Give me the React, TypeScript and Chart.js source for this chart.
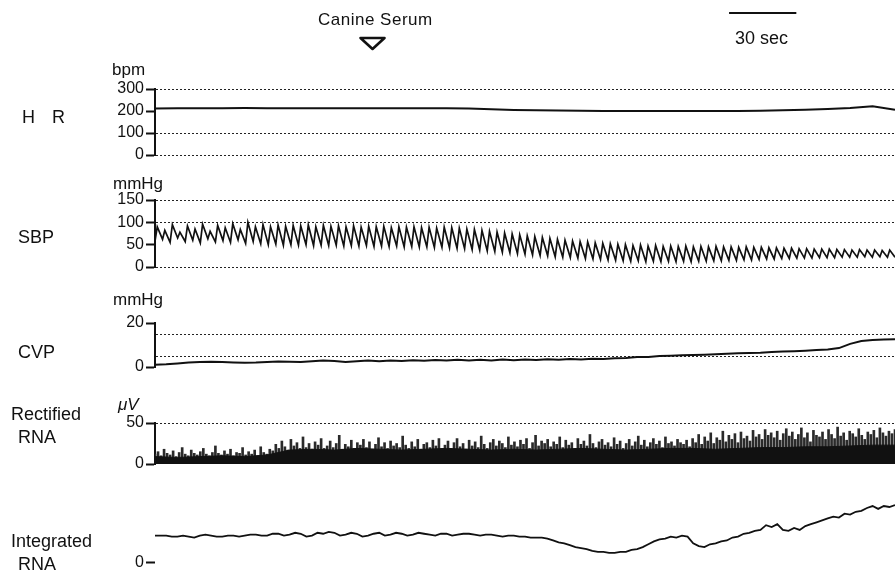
import { useEffect, useRef } from "react";
import { Chart, registerables } from "chart.js";

Chart.register(...registerables);

// ---------- data (read from the recording) ----------
const TIME_MAX = 330; // seconds shown across the record
const SERUM_TIME = 97; // injection of canine serum (s)
const SCALE_BAR_START = 256; // 30 sec calibration bar (s)
const SCALE_BAR_LENGTH = 30;

// Heart rate, bpm, one value every 10 s
const HR_STEP = 10;
const HR_VALUES = [211, 212, 212, 213, 214, 213, 212, 212, 212, 212, 212, 212, 212, 212, 211, 208, 205, 203, 202, 201, 200, 200, 200, 200, 200, 200, 200, 201, 203, 206, 209, 214, 222, 206];
const HR_TICKS = [0, 100, 200, 300];

// Systemic blood pressure, mmHg, per beat (systolic peak / diastolic trough)
const SBP_PEAKS = [
  90, 82, 95, 78, 92, 85, 96, 80, 93, 88, 97, 84, 100, 90,
  95, 90, 94, 91, 93, 92, 94, 90, 93, 91, 92, 90, 92, 89, 91, 90, 91, 88, 90, 89, 90, 88, 89, 87, 89, 88,
  87, 85, 84, 82, 80, 78, 76, 74, 72, 70, 68, 66, 64, 62, 60, 58, 57, 56, 54, 53, 52, 51,
  50, 48, 49, 47, 48, 46, 47, 46, 47, 45, 46, 45, 46, 45, 45, 44, 45, 44,
  44, 43, 43, 42, 42, 41, 41, 40, 40, 40, 39, 39, 38, 39, 38, 38, 37, 38,
];
const SBP_TROUGHS = [
  58, 62, 55, 65, 57, 60, 54, 63, 56, 59, 55, 61, 53, 57,
  52, 50, 51, 49, 50, 49, 50, 48, 49, 48, 49, 47, 48, 47, 48, 46, 47, 46, 47, 45, 46, 45, 45, 44, 44, 43,
  42, 41, 39, 38, 36, 35, 33, 32, 30, 29, 27, 26, 25, 23, 22, 21, 20, 19, 18, 17, 16, 15,
  14, 13, 14, 12, 13, 12, 13, 12, 13, 12, 13, 13, 14, 14, 15, 15, 16, 16,
  17, 18, 18, 19, 19, 20, 20, 20, 21, 21, 21, 22, 22, 22, 23, 22, 23, 22,
];
const SBP_TICKS = [0, 50, 100, 150];

// Central venous pressure, mmHg, one value every 5 s
const CVP_STEP = 5;
const CVP_VALUES = [
  1.0, 1.2, 1.6, 2.0, 2.3, 2.4, 2.3, 2.1, 1.9, 2.0, 2.3, 2.5, 2.4, 2.3, 2.6, 2.9, 2.7, 2.3, 2.6, 2.9,
  2.6, 3.0, 2.7, 3.1, 2.8, 3.2, 2.9, 3.3, 3.0, 3.3, 3.0, 3.4, 3.1, 3.4, 3.2, 3.5, 3.3, 3.6, 3.4, 3.7,
  3.6, 4.0, 4.1, 4.5, 4.6, 5.0, 5.1, 5.3, 5.4, 5.6, 5.8, 6.0, 6.2, 6.4, 6.5, 6.8, 7.0, 7.2, 7.4, 7.7,
  8.0, 8.6, 10.5, 11.8, 12.3, 12.5, 12.6,
];
const CVP_TICKS = [0, 20];

// Rectified renal nerve activity, microvolts
// background level, one value every 10 s
const RNA_BASE_STEP = 10;
const RNA_BASE = [9, 8, 9, 10, 9, 11, 17, 18, 17, 19, 18, 17, 18, 19, 18, 17, 18, 17, 18, 19, 18, 17, 18, 19, 19, 18, 19, 20, 20, 21, 21, 22, 23, 23];
// individual bursts, evenly spaced over the record
const RNA_SPIKES = [
  12, 15, 10, 18, 13, 11, 16, 9, 14, 20, 12, 10, 17, 13, 11, 15, 19, 12, 10, 14,
  22, 13, 11, 16, 12, 18, 10, 14, 13, 20, 11, 15, 12, 17, 10, 21, 14, 12, 18, 16,
  24, 19, 28, 21, 17, 30, 22, 26, 19, 33, 20, 25, 18, 27, 23, 31, 19, 22, 28, 20,
  25, 35, 18, 24, 21, 29, 19, 26, 23, 30, 20, 27, 18, 24, 32, 21, 26, 19, 28, 22,
  25, 20, 34, 23, 19, 27, 21, 30, 18, 24, 26, 20, 29, 22, 31, 19,
  23, 28, 19, 26, 31, 21, 25, 18, 29, 22, 27, 20, 34, 24, 19, 26, 30, 22, 28, 25,
  20, 33, 23, 27, 21, 29, 24, 31, 19, 26, 35, 22, 28, 25, 30, 21, 27, 24, 33, 20,
  29, 23, 26, 19, 31, 24, 28, 22, 36, 25, 20, 27, 30, 23, 26, 21, 32, 24, 28, 19,
  25, 30, 22, 27, 34, 23, 29, 21, 26, 31, 24, 28, 20, 33, 25, 27, 22, 30, 26, 24,
  29, 21,
  31, 26, 36, 24, 33, 28, 38, 25, 32, 29, 40, 27, 35, 30, 37, 26, 39, 31, 34, 28,
  41, 33, 36, 30, 42, 35, 38, 32, 40, 29, 37, 43, 34, 39, 30, 36, 44, 32, 38, 27,
  41, 35, 33, 39, 30, 42, 36, 31, 45, 34, 38, 29, 40, 37, 33, 43, 35, 30, 39, 36,
  41, 32, 44, 38, 34, 40, 37, 42,
];
const RNA_TICKS = [0, 50];

// Integrated renal nerve activity, arbitrary units, one value every 2.5 s
const INT_STEP = 2.5;
const INT_VALUES = [
  28, 28, 28, 27, 27, 28, 27, 26, 28, 29,
  28, 27, 27, 28, 28, 27, 28, 29, 29, 28,
  28, 30, 30, 28, 29, 31, 30, 27, 28, 31,
  30, 32, 31, 28, 29, 31, 30, 27, 28, 30,
  31, 28, 29, 31, 30, 28, 29, 31, 30, 29,
  28, 30, 30, 28, 29, 30, 30, 29, 28, 29,
  29, 28, 27, 28, 28, 27, 27, 26, 26, 26,
  25, 23, 21, 20, 18, 16, 15, 14, 12, 11,
  11, 10, 10, 11, 11, 13, 14, 16, 19, 22,
  24, 25, 27, 26, 28, 27, 20, 17, 16, 19,
  20, 22, 23, 26, 27, 30, 31, 33, 34, 39,
  37, 40, 34, 33, 36, 34, 38, 40, 42, 44,
  46, 48, 47, 51, 50, 53, 54, 57, 59, 56,
  59, 58, 60,
];
const INT_TICKS = [0];

// ---------- layout / style ----------
const W = 895;
const H = 574;
const AXIS_X = 155;
const FONT = "'Liberation Sans', Arial, sans-serif";
const INK = "#111";

type PanelSpec = {
  top: number;
  bottom: number;
  min: number;
  max: number;
  ticks: number[];
  labels: number[];
  dotted: number[];
  border: boolean;
  datasets: any[];
  plugins?: any[];
};

function panelConfig(p: PanelSpec): any {
  return {
    type: "line",
    data: { datasets: p.datasets },
    plugins: p.plugins || [],
    options: {
      responsive: false,
      animation: false,
      events: [],
      parsing: false,
      layout: { padding: { left: 0, right: 0, top: p.top, bottom: H - p.bottom } },
      plugins: {
        legend: { display: false },
        tooltip: { enabled: false },
        title: { display: false },
      },
      elements: { point: { radius: 0 }, line: { tension: 0 } },
      scales: {
        x: { type: "linear", min: 0, max: TIME_MAX, display: false, offset: false },
        y: {
          type: "linear",
          min: p.min,
          max: p.max,
          afterFit: (s: any) => {
            s.width = AXIS_X;
          },
          afterBuildTicks: (s: any) => {
            s.ticks = p.ticks.map((v) => ({ value: v }));
          },
          ticks: {
            autoSkip: false,
            padding: 2,
            color: INK,
            font: { family: FONT, size: 16 },
            callback: (v: number) => (p.labels.includes(v) ? String(v) : ""),
          },
          grid: {
            drawOnChartArea: true,
            drawTicks: true,
            tickLength: 9,
            tickWidth: 2,
            lineWidth: 1,
            color: (c: any) => (c.tick && p.dotted.includes(c.tick.value) ? "#222" : "rgba(0,0,0,0)"),
            tickColor: (c: any) => (c.tick && p.labels.includes(c.tick.value) ? INK : "rgba(0,0,0,0)"),
          },
          border: { display: p.border, color: INK, width: 2, dash: [2, 2] },
        },
      },
    },
  };
}

const markerPlugin = {
  id: "markers",
  afterDraw(chart: any) {
    const xs = chart.scales.x;
    const ctx = chart.ctx;
    ctx.save();
    ctx.strokeStyle = INK;
    ctx.lineWidth = 2;
    const a = xs.getPixelForValue(SCALE_BAR_START);
    const b = xs.getPixelForValue(SCALE_BAR_START + SCALE_BAR_LENGTH);
    ctx.beginPath();
    ctx.moveTo(a, 13);
    ctx.lineTo(b, 13);
    ctx.stroke();
    const s = xs.getPixelForValue(SERUM_TIME);
    ctx.lineWidth = 2.6;
    ctx.lineJoin = "round";
    ctx.beginPath();
    ctx.moveTo(s - 12, 38);
    ctx.lineTo(s + 12, 38);
    ctx.lineTo(s, 49);
    ctx.closePath();
    ctx.stroke();
    ctx.restore();
  },
};

function stepSeries(values: number[], step: number) {
  return values.map((v, i) => ({ x: i * step, y: v }));
}

function spreadSeries(values: number[]) {
  const step = TIME_MAX / (values.length - 1);
  return values.map((v, i) => ({ x: i * step, y: v }));
}

function beatSeries(peaks: number[], troughs: number[]) {
  const period = TIME_MAX / peaks.length;
  const pts: { x: number; y: number }[] = [];
  peaks.forEach((pk, i) => {
    pts.push({ x: i * period, y: troughs[i] });
    pts.push({ x: i * period + period * 0.3, y: pk });
  });
  pts.push({ x: TIME_MAX, y: troughs[troughs.length - 1] });
  return pts;
}

function lineDs(data: any[], width: number, extra: any = {}) {
  return {
    data,
    borderColor: INK,
    borderWidth: width,
    pointRadius: 0,
    fill: false,
    ...extra,
  };
}

function buildPanels(): PanelSpec[] {
  return [
    {
      top: 89, bottom: 155, min: 0, max: 300, ticks: HR_TICKS, labels: HR_TICKS, dotted: [0, 100, 300], border: true,
      datasets: [lineDs(stepSeries(HR_VALUES, HR_STEP), 2)],
      plugins: [markerPlugin],
    },
    {
      top: 200, bottom: 267, min: 0, max: 150, ticks: SBP_TICKS, labels: SBP_TICKS, dotted: [0, 100, 150], border: true,
      datasets: [lineDs(beatSeries(SBP_PEAKS, SBP_TROUGHS), 1.7)],
    },
    {
      top: 323, bottom: 367, min: 0, max: 20, ticks: [0, 5, 15, 20], labels: CVP_TICKS, dotted: [5, 15], border: true,
      datasets: [lineDs(stepSeries(CVP_VALUES, CVP_STEP), 2)],
    },
    {
      top: 423, bottom: 464, min: 0, max: 50, ticks: RNA_TICKS, labels: RNA_TICKS, dotted: [50], border: true,
      datasets: [
        lineDs(stepSeries(RNA_BASE, RNA_BASE_STEP), 1, { fill: "origin", backgroundColor: "#111" }),
        {
          type: "bar",
          data: spreadSeries(RNA_SPIKES),
          backgroundColor: "#2a2a2a",
          borderWidth: 0,
          barThickness: 2,
        },
      ],
    },
    {
      top: 486, bottom: 566, min: 0, max: 80, ticks: INT_TICKS, labels: INT_TICKS, dotted: [], border: false,
      datasets: [lineDs(stepSeries(INT_VALUES, INT_STEP), 1.8)],
    },
  ];
}

function PanelCanvas({ spec }: { spec: PanelSpec }) {
  const ref = useRef<HTMLCanvasElement | null>(null);
  useEffect(() => {
    if (!ref.current) return;
    const chart = new Chart(ref.current, panelConfig(spec));
    return () => chart.destroy();
  }, [spec]);
  return (
    <canvas
      ref={ref}
      width={W}
      height={H}
      style={{ position: "absolute", left: 0, top: 0, width: W, height: H }}
    />
  );
}

const PANELS = buildPanels();

const label = (text: string, left: number, top: number, extra: any = {}) => (
  <div
    style={{
      position: "absolute",
      left,
      top,
      fontFamily: FONT,
      fontSize: 18,
      lineHeight: "18px",
      color: INK,
      whiteSpace: "pre",
      ...extra,
    }}
  >
    {text}
  </div>
);

export default function App() {
  return (
    <div
      style={{
        position: "absolute",
        left: 0,
        top: 0,
        width: W,
        height: H,
        background: "#fff",
        overflow: "hidden",
      }}
    >
      {PANELS.map((p, i) => (
        <PanelCanvas key={i} spec={p} />
      ))}
      {label("H R", 22, 108, { wordSpacing: 12 })}
      {label("SBP", 18, 228)}
      {label("CVP", 18, 343)}
      {label("Rectified", 11, 405)}
      {label("RNA", 18, 428)}
      {label("Integrated", 11, 532)}
      {label("RNA", 18, 555)}
      {label("bpm", 112, 61, { fontSize: 17 })}
      {label("mmHg", 113, 175, { fontSize: 17 })}
      {label("mmHg", 113, 291, { fontSize: 17 })}
      {label("\u03bcV", 118, 396, { fontSize: 17, fontStyle: "italic" })}
      {label("Canine Serum", 318, 11, { fontSize: 17, letterSpacing: 0.5 })}
      {label("30 sec", 735, 29)}
    </div>
  );
}
